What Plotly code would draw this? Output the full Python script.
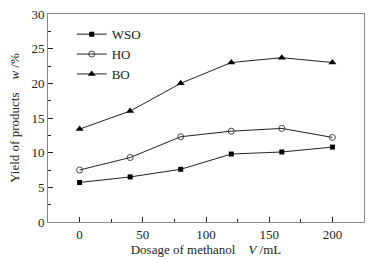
import plotly.graph_objects as go

x_vals = [0, 40, 80, 120, 160, 200]
wso = [5.7, 6.5, 7.6, 9.8, 10.1, 10.8]
ho = [7.5, 9.3, 12.3, 13.1, 13.5, 12.2]
bo = [13.4, 16.0, 20.0, 23.0, 23.7, 23.0]

font = "Liberation Serif, Times New Roman, serif"
fig = go.Figure()
fig.add_trace(go.Scatter(x=x_vals, y=wso, name="WSO", mode="lines+markers",
                         line=dict(color="#222", width=1),
                         marker=dict(symbol="square", size=5, color="#000")))
fig.add_trace(go.Scatter(x=x_vals, y=ho, name="HO", mode="lines+markers",
                         line=dict(color="#222", width=1),
                         marker=dict(symbol="circle-open", size=6, color="#444", line=dict(width=1))))
fig.add_trace(go.Scatter(x=x_vals, y=bo, name="BO", mode="lines+markers",
                         line=dict(color="#222", width=1),
                         marker=dict(symbol="triangle-up", size=7, color="#000")))

axis_common = dict(showline=True, linecolor="#888", linewidth=1, mirror=True,
                   ticks="inside", ticklen=5, tickcolor="#222", showgrid=False,
                   zeroline=False, automargin=False,
                   tickfont=dict(family=font, size=13, color="#222"))
fig.update_xaxes(range=[-25, 225], tickvals=[0, 50, 100, 150, 200],
                 minor=dict(ticks="inside", ticklen=3, dtick=25, tickcolor="#222"),
                 title=dict(text="Dosage of methanol    <i>V</i> /mL",
                            font=dict(family=font, size=13, color="#222"), standoff=4),
                 **axis_common)
fig.update_yaxes(range=[0, 30], tickvals=[0, 5, 10, 15, 20, 25, 30],
                 minor=dict(ticks="inside", ticklen=3, dtick=2.5, tickcolor="#222"),
                 title=dict(text="Yield of products    <i>w</i> /%",
                            font=dict(family=font, size=13, color="#222"), standoff=8),
                 **axis_common)
fig.update_layout(width=384, height=262, margin=dict(l=48, r=20, t=14, b=40),
                  plot_bgcolor="white", paper_bgcolor="white",
                  font=dict(family=font, size=13, color="#222"),
                  legend=dict(x=0.075, y=0.975, xanchor="left", yanchor="top",
                              bgcolor="rgba(0,0,0,0)", tracegroupgap=0,
                              font=dict(family=font, size=13, color="#222"),
                              itemwidth=30))
fig.write_html("out.html", config={"displayModeBar": False},
               post_script="document.body.style.margin='0';document.body.style.overflow='hidden';")
